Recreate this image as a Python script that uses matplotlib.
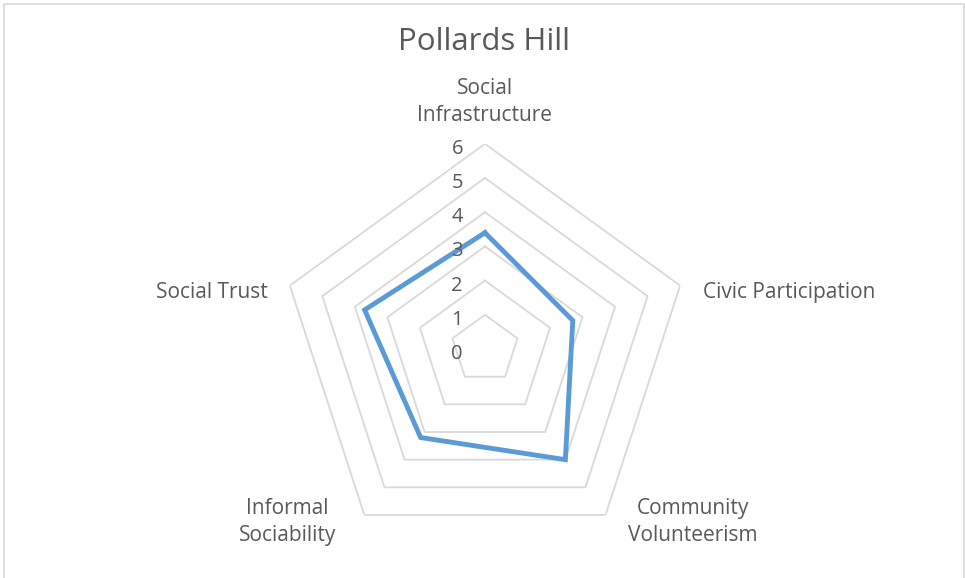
import numpy as np
import matplotlib.pyplot as plt
from matplotlib.patches import Rectangle

categories = ['Social\nInfrastructure', 'Civic Participation', 'Community\nVolunteerism',
              'Informal\nSociability', 'Social Trust']
values = [3.4, 2.7, 4.0, 3.2, 3.7]
levels = [0, 1, 2, 3, 4, 5, 6]

plt.rcParams['font.family'] = ['Open Sans', 'DejaVu Sans']
text_col = '#595959'
grid_col = '#d9d9d9'
line_col = '#5b9bd5'

fig = plt.figure(figsize=(9.65, 5.78), dpi=100)
fig.patches.append(Rectangle((4 / 965, -0.01), 960 / 965, 1.01 - 4 / 578,
                             transform=fig.transFigure, fill=False,
                             edgecolor=grid_col, lw=1.2))

ax = fig.add_axes([0.2899, 0.0412, 0.4253, 0.710], projection='polar')
ax.set_theta_offset(np.pi / 2)
ax.set_theta_direction(-1)
ax.set_ylim(0, levels[-1])

angles = np.linspace(0, 2 * np.pi, len(categories), endpoint=False)
closed = np.append(angles, angles[0])

# pentagon gridlines
for lv in levels[1:]:
    ax.plot(closed, [lv] * len(closed), color=grid_col, lw=1.3, zorder=1)

ax.plot(closed, values + values[:1], color=line_col, lw=3.5, zorder=3,
        solid_joinstyle='miter')

ax.grid(False)
ax.spines['polar'].set_visible(False)
ax.set_xticks([])
ax.set_yticks([])

# value labels along the top axis
for lv in levels:
    ax.annotate(str(lv), (0, lv), xytext=(-22, -5), textcoords='offset pixels',
                ha='right', va='center', fontsize=14.5, color=text_col)

# category labels
offsets = [(0, 42, 'center'), (23, -7, 'left'), (87, -7, 'center'),
           (-77, -7, 'center'), (-22, -7, 'right')]
for ang, cat, (dx, dy, ha) in zip(angles, categories, offsets):
    ax.annotate(cat, (ang, levels[-1]), xytext=(dx, dy), textcoords='offset pixels',
                ha=ha, va='center', fontsize=15, color=text_col,
                linespacing=1.4, annotation_clip=False)

fig.text(484 / 965, 1 - 42 / 578, 'Pollards Hill', ha='center', va='center',
         fontsize=22.5, color=text_col)

fig.savefig('out.png', dpi=100, facecolor='white')
